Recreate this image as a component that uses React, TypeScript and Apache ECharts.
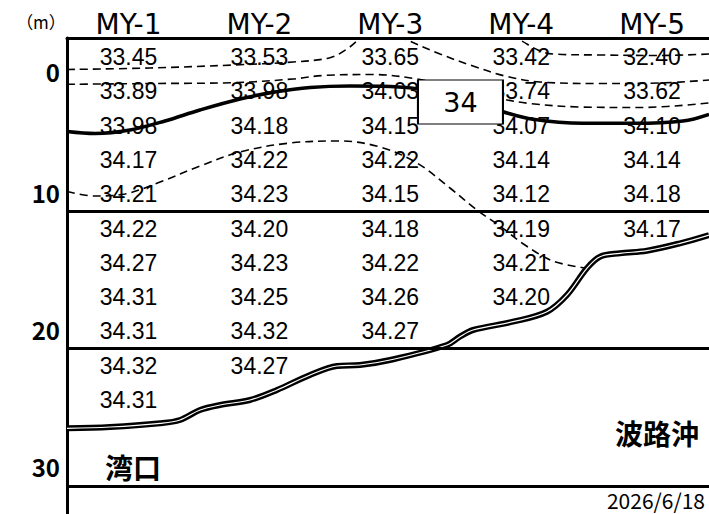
import React, { useEffect, useRef } from "react";
import * as echarts from "echarts";

// ---- data ----
const stations = ["MY-1", "MY-2", "MY-3", "MY-4", "MY-5"];
const depths = [0, 2.5, 5, 7.5, 10, 12.5, 15, 17.5, 20, 22.5, 25];
const salinityMY1 = [33.45, 33.89, 33.98, 34.17, 34.21, 34.22, 34.27, 34.31, 34.31, 34.32, 34.31];
const salinityMY2 = [33.53, 33.98, 34.18, 34.22, 34.23, 34.2, 34.23, 34.25, 34.32, 34.27];
const salinityMY3 = [33.65, 34.03, 34.15, 34.22, 34.15, 34.18, 34.22, 34.26, 34.27];
const salinityMY4 = [33.42, 33.74, 34.07, 34.14, 34.12, 34.19, 34.21, 34.2];
const salinityMY5 = [32.4, 33.62, 34.1, 34.14, 34.18, 34.17];
const yTickValues = [0, 10, 20, 30];
const yTickLabels = ["0", "10", "20", "30"];
const sectionDepths = [11.25, 21.25, 31.25];
const contourLabel = "34";
const contourLabelAt = [3.536, 3.28];
const unitLabel = "（m）";
const westLabel = "湾口";
const eastLabel = "波路沖";
const dateLabel = "2026/6/18";

// contour lines: [station position, depth (m)]
const dashedA = [
  [0.53, 0.911], [1.164, 0.802], [1.798, 0.583], [2.257, 0.364], [2.539, 0.051],
  [2.669, -0.583], [2.768, -1.385], [2.8, -1.8],
];
const dashedB = [
  [3.07, -1.6], [3.097, -1.385], [3.38, -0.219], [3.632, 0.656], [3.876, 1.385],
  [4.143, 1.822], [4.602, 1.931], [5.06, 1.895], [5.435, 1.676],
];
const dashedC = [
  [3.915, -1.531], [3.991, -1.239], [4.128, -0.51], [4.242, -0.219], [4.602, -0.146],
  [5.06, -0.109], [5.435, -0.219],
];
const dashedD = [
  [0.53, 1.99], [1.164, 1.932], [1.798, 1.873], [2.257, 1.603], [2.486, 1.348],
  [2.868, 1.276], [3.204, 1.603], [3.533, 2.259], [3.861, 3.061], [4.067, 3.389],
  [4.449, 3.644], [4.908, 3.681], [5.435, 3.353],
];
const contour34 = [
  [0.53, 5.43], [0.744, 5.576], [1.011, 5.321], [1.279, 4.665], [1.546, 3.863],
  [1.852, 3.061], [2.119, 2.551], [2.387, 2.223], [2.692, 2.114], [2.998, 2.15],
  [3.212, 2.332], [3.532, 3.134], [3.838, 3.936], [4.09, 4.541], [4.472, 4.832],
  [4.854, 4.832], [5.236, 4.665], [5.435, 4.176],
];
const dashedE = [
  [0.53, 9.803], [0.744, 10.131], [0.973, 9.985], [1.241, 9.111], [1.546, 7.945],
  [1.852, 6.924], [2.234, 6.268], [2.616, 6.122], [2.921, 6.56], [3.204, 7.726],
  [3.456, 9.548], [3.662, 11.152], [3.838, 12.318], [4.029, 13.703], [4.243, 14.869],
  [4.487, 15.379],
];
const seabed = [
  [0.53, 27.063], [0.859, 26.968], [1.241, 26.698], [1.393, 26.458], [1.546, 25.729],
  [1.699, 25.364], [1.928, 25.0], [2.134, 24.271], [2.387, 23.178], [2.593, 22.522],
  [2.768, 22.449], [2.998, 22.085], [3.433, 20.991], [3.532, 20.386], [3.632, 19.898],
  [3.937, 19.293], [4.197, 18.564], [4.35, 17.347], [4.502, 15.401], [4.602, 14.555],
  [4.754, 14.308], [4.961, 14.118], [5.213, 13.579], [5.435, 12.974],
];

const stationValues = [salinityMY1, salinityMY2, salinityMY3, salinityMY4, salinityMY5];

const JP = "'Noto Sans CJK JP', 'Noto Sans', sans-serif";
const SANS = "'Liberation Sans', Arial, sans-serif";

export default function App() {
  const ref = useRef<HTMLDivElement>(null);

  useEffect(() => {
    if (!ref.current) return;
    const chart = echarts.init(ref.current, undefined, { renderer: "svg" });

    const valueData: any[] = [];
    stationValues.forEach((arr, s) => {
      arr.forEach((v, i) => valueData.push([s + 1, depths[i], v]));
    });

    const dashed = (data: number[][]) => ({
      type: "line",
      data,
      smooth: 0.35,
      showSymbol: false,
      symbol: "none",
      silent: true,
      z: 3,
      lineStyle: { color: "#000", width: 1.6, type: [8, 5] },
    });

    const option: any = {
      animation: false,
      backgroundColor: "#fff",
      grid: { left: 67, right: 0, top: 38, bottom: 0, containLabel: false },
      xAxis: {
        type: "value",
        position: "top",
        min: 0.53,
        max: 5.435,
        axisLine: { show: true, onZero: false, lineStyle: { color: "#000", width: 3 } },
        axisTick: { show: false },
        splitLine: { show: false },
        axisLabel: {
          customValues: [1, 2, 3, 4, 5],
          formatter: (v: number) => stations[Math.round(v) - 1] ?? "",
          fontSize: 28,
          fontFamily: "'DejaVu Sans', sans-serif",
          color: "#000",
          margin: 0,
        },
      },
      yAxis: {
        type: "value",
        inverse: true,
        min: -1.385,
        max: 33.309,
        axisLine: { show: true, onZero: false, lineStyle: { color: "#000", width: 3 } },
        axisTick: { show: false },
        splitLine: { show: false },
        axisLabel: {
          customValues: yTickValues,
          formatter: (v: number) => {
            const idx = yTickValues.indexOf(Math.round(v));
            const t = idx >= 0 ? yTickLabels[idx] : String(v);
            return Math.round(v) === 0 ? "{z|" + t + "}" : "{n|" + t + "}";
          },
          margin: 7,
          rich: {
            z: { fontSize: 24, fontWeight: "bold", fontFamily: JP, color: "#000", padding: [28, 0, 0, 0] },
            n: { fontSize: 24, fontWeight: "bold", fontFamily: JP, color: "#000", padding: [0, 0, 4, 0] },
          },
        },
      },
      series: [
        {
          type: "scatter",
          data: valueData,
          symbolSize: 0,
          itemStyle: { color: "#000", opacity: 1 },
          silent: true,
          z: 2,
          label: {
            show: true,
            position: "inside",
            offset: [0, 0],
            formatter: (p: any) => Number(p.value[2]).toFixed(2),
            fontSize: 23,
            fontFamily: SANS,
            color: "#000",
            opacity: 1,
            textBorderWidth: 0,
            textBorderColor: "transparent",
          },
          markLine: {
            silent: true,
            symbol: "none",
            label: { show: false },
            lineStyle: { color: "#000", width: 3, type: "solid" },
            data: sectionDepths.map((d) => ({ yAxis: d })),
          },
        },
        dashed(dashedA),
        dashed(dashedB),
        dashed(dashedC),
        dashed(dashedD),
        dashed(dashedE),
        {
          type: "line",
          data: contour34,
          smooth: 0.35,
          showSymbol: false,
          symbol: "none",
          silent: true,
          z: 3,
          lineStyle: { color: "#000", width: 3.5 },
        },
        {
          type: "line",
          data: seabed,
          smooth: 0.35,
          showSymbol: false,
          symbol: "none",
          silent: true,
          z: 3,
          lineStyle: { color: "#000", width: 6 },
        },
        {
          type: "line",
          data: seabed,
          smooth: 0.35,
          showSymbol: false,
          symbol: "none",
          silent: true,
          z: 4,
          lineStyle: { color: "#fff", width: 1.2 },
        },
        {
          type: "scatter",
          data: [contourLabelAt],
          symbol: "rect",
          symbolSize: [85, 44],
          itemStyle: { color: "#fff", borderColor: "#000", borderWidth: 1.5, opacity: 1 },
          silent: true,
          z: 6,
          label: {
            show: true,
            position: "inside",
            formatter: contourLabel,
            fontSize: 27,
            fontFamily: "'DejaVu Sans', sans-serif",
            color: "#000",
            textBorderWidth: 0,
          },
        },
      ],
      graphic: [
        {
          type: "text",
          x: 41,
          y: 21,
          style: { text: unitLabel, fontSize: 17, fontFamily: JP, fill: "#000", align: "center", verticalAlign: "middle" },
        },
        {
          type: "text",
          x: 133,
          y: 467,
          style: { text: westLabel, fontSize: 28, fontWeight: "bold", fontFamily: JP, fill: "#000", align: "center", verticalAlign: "middle" },
        },
        {
          type: "text",
          x: 657,
          y: 433,
          style: { text: eastLabel, fontSize: 28, fontWeight: "bold", fontFamily: JP, fill: "#000", align: "center", verticalAlign: "middle" },
        },
        {
          type: "text",
          x: 705,
          y: 500,
          style: { text: dateLabel, fontSize: 21, fontFamily: JP, fill: "#000", align: "right", verticalAlign: "middle" },
        },
      ],
    };

    chart.setOption(option);
    return () => chart.dispose();
  }, []);

  return (
    <div
      ref={ref}
      style={{ position: "absolute", left: 0, top: 0, width: 709, height: 514, background: "#fff" }}
    />
  );
}
